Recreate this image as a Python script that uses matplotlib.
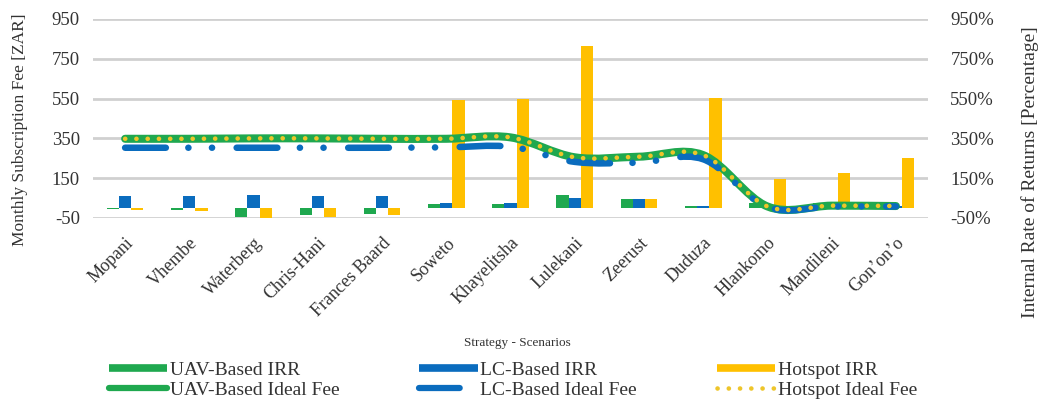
import numpy as np
import matplotlib
matplotlib.use("Agg")
import matplotlib.pyplot as plt
from matplotlib.path import Path
from matplotlib.patches import PathPatch
from matplotlib.lines import Line2D

plt.rcParams["font.family"] = ["Liberation Serif", "DejaVu Serif"]
plt.rcParams["lines.scale_dashes"] = False
plt.rcParams["axes.unicode_minus"] = False

sites = ["Mopani", "Vhembe", "Waterberg", "Chris-Hani", "Frances Baard", "Soweto",
         "Khayelitsha", "Lulekani", "Zeerust", "Duduza", "Hlankomo", "Mandileni", "Gon\u2019on\u2019o"]

# IRR bars (percentage, right axis)
uav_irr = [-4, -10, -45, -35, -28, 20, 20, 65, 45, 8, 25, 25, 12]
lc_irr = [58, 58, 65, 58, 58, 27, 27, 50, 45, 12, 15, 15, 12]
hot_irr = [-10, -15, -48, -45, -35, 545, 548, 815, 45, 555, 146, 174, 250]

# ideal monthly fee (ZAR, left axis)
uav_fee = [348, 348, 350, 350, 348, 348, 355, 255, 258, 266, 8, 12, 10]
lc_fee = [303, 303, 303, 303, 303, 305, 308, 232, 228, 245, 5, 8, 8]
hot_fee = [348, 348, 350, 350, 348, 348, 355, 255, 258, 266, 8, 12, 10]

yticks = [-50, 150, 350, 550, 750, 950]

GREEN = "#1FA84F"
BLUE = "#0A6CBE"
YELLOW = "#FFC000"
DOT = "#EEC52A"
TXT = "#333333"
LC_DASH = (0, (29.3, 16.2, 0.1, 16.9, 0.1, 17.7))
HOT_DOT = (0, (0.1, 8.0))


def smooth_path(xs, ys):
    # Excel-style smoothed line: Catmull-Rom segments as cubic Bezier curves
    p = np.column_stack([xs, ys]).astype(float)
    ext = np.vstack([p[0], p, p[-1]])
    verts = [p[0]]
    codes = [Path.MOVETO]
    for i in range(len(p) - 1):
        p0, p1, p2, p3 = ext[i], ext[i + 1], ext[i + 2], ext[i + 3]
        verts += [p1 + (p2 - p0) / 6, p2 - (p3 - p1) / 6, p2]
        codes += [Path.CURVE4] * 3
    return Path(verts, codes)


fig = plt.figure(figsize=(10.51, 4.03), dpi=100)
ax2 = fig.add_axes([0.0885, 0.4591, 0.7945, 0.4938])
ax = ax2.twinx()
ax.set_zorder(ax2.get_zorder() + 1)
ax.patch.set_visible(False)

x = np.arange(len(sites))
w = 0.19
ax2.bar(x - w, uav_irr, w, color=GREEN, zorder=2)
ax2.bar(x, lc_irr, w, color=BLUE, zorder=2)
ax2.bar(x + w, hot_irr, w, color=YELLOW, zorder=2)

ax.add_patch(PathPatch(smooth_path(x, uav_fee), fill=False, ec=GREEN, lw=5.8,
                       capstyle="round", joinstyle="round"))
ax.add_patch(PathPatch(smooth_path(x, lc_fee), fill=False, ec=BLUE, lw=4.7,
                       ls=LC_DASH, capstyle="round", joinstyle="round"))
ax.add_patch(PathPatch(smooth_path(x, hot_fee), fill=False, ec=DOT, lw=3.3,
                       ls=HOT_DOT, capstyle="round", joinstyle="round"))

for a in (ax, ax2):
    a.set_xlim(-0.5, len(sites) - 0.5)
    a.set_ylim(-50, 950)
    a.set_yticks(yticks)
    for s in a.spines.values():
        s.set_visible(False)
    a.tick_params(length=0, colors=TXT, labelsize=13.5)

ax2.yaxis.grid(True, color="#D0D0D0", lw=2)
ax2.set_axisbelow(True)
ax2.yaxis.tick_left()
ax2.tick_params(axis="y", pad=9.5)
ax.yaxis.tick_right()
ax.set_yticklabels([f"{t}%" for t in yticks])
ax.tick_params(axis="y", pad=16)

ax2.set_xticks(x)
ax2.set_xticklabels(sites, rotation=45, ha="right", rotation_mode="anchor",
                    fontsize=13)
ax2.tick_params(axis="x", pad=12)

fig.text(20 / 1051, 1 - 130 / 403, "Monthly Subscription Fee [ZAR]", rotation=90,
         ha="center", va="center", fontsize=12.5, color=TXT)
fig.text(1030 / 1051, 1 - 172 / 403, "Internal Rate of Returns [Percentage]", rotation=90,
         ha="center", va="center", fontsize=14, color=TXT)
fig.text(517 / 1051, 1 - 343 / 403, "Strategy - Scenarios", ha="center", va="center",
         fontsize=9.5, color=TXT)

handles = [
    Line2D([], [], color=GREEN, lw=5.5, solid_capstyle="butt"),
    Line2D([], [], color=GREEN, lw=4.5, solid_capstyle="round"),
    Line2D([], [], color=BLUE, lw=5.5, solid_capstyle="butt"),
    Line2D([], [], color=BLUE, lw=4.5, ls=LC_DASH, dash_capstyle="round"),
    Line2D([], [], color=YELLOW, lw=5.5, solid_capstyle="butt"),
    Line2D([], [], color=DOT, lw=3.3, ls=HOT_DOT, dash_capstyle="round"),
]
labels = ["UAV-Based IRR", "UAV-Based Ideal Fee", "LC-Based IRR", "LC-Based Ideal Fee",
          "Hotspot IRR", "Hotspot Ideal Fee"]
fig.legend(handles, labels, ncol=3, loc="center", bbox_to_anchor=(513 / 1051, 1 - 380 / 403),
           frameon=False, fontsize=14, handlelength=3.0, handletextpad=0.15,
           columnspacing=4.1, labelspacing=0.12, labelcolor=TXT)

fig.savefig("out.png", dpi=100)
